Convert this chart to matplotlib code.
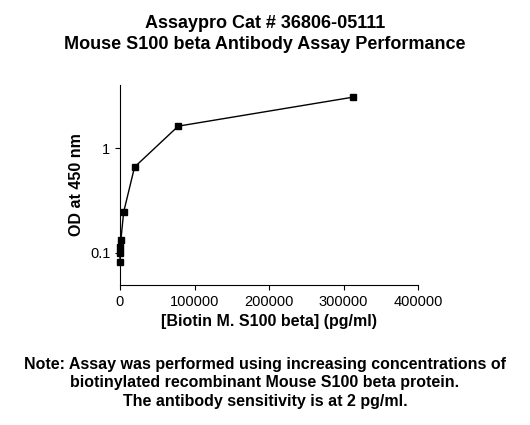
import matplotlib
matplotlib.use("Agg")
import matplotlib.pyplot as plt

conc = [0, 76, 305, 1220, 4883, 19531, 78125, 312500]
od = [0.082, 0.100, 0.114, 0.133, 0.245, 0.66, 1.62, 3.06]
xticks = [0, 100000, 200000, 300000, 400000]

plt.rcParams['font.family'] = ['Liberation Sans', 'DejaVu Sans']
fig = plt.figure(figsize=(5.3, 4.25), dpi=100)
ax = fig.add_axes([120/530, 1-285/425, 298/530, 200/425])
ax.plot(conc, od, color='black', lw=1, marker='s', ms=4.5, clip_on=False)
ax.set_yscale('log')
ax.set_ylim(0.0495, 4.0)
ax.set_xlim(0, 400000)
ax.set_xticks(xticks)
ax.set_xticklabels([str(v) for v in xticks])
ax.set_yticks([0.1, 1])
ax.set_yticklabels(['0.1', '1'])
ax.yaxis.set_minor_locator(matplotlib.ticker.NullLocator())
for s in ['top', 'right']:
    ax.spines[s].set_visible(False)
ax.tick_params(labelsize=10.5)
ax.set_xlabel('[Biotin M. S100 beta] (pg/ml)', fontsize=11.5, fontweight='bold')
ax.set_ylabel('OD at 450 nm', fontsize=11.5, fontweight='bold')
fig.text(0.5, 1-34/425, 'Assaypro Cat # 36806-05111\nMouse S100 beta Antibody Assay Performance',
         ha='center', va='center', fontsize=13, fontweight='bold', linespacing=1.3)
fig.text(0.5, 1-383/425, 'Note: Assay was performed using increasing concentrations of\nbiotinylated recombinant Mouse S100 beta protein.\nThe antibody sensitivity is at 2 pg/ml.',
         ha='center', va='center', fontsize=11.5, fontweight='bold', linespacing=1.3)
fig.savefig('out.png', dpi=100)
